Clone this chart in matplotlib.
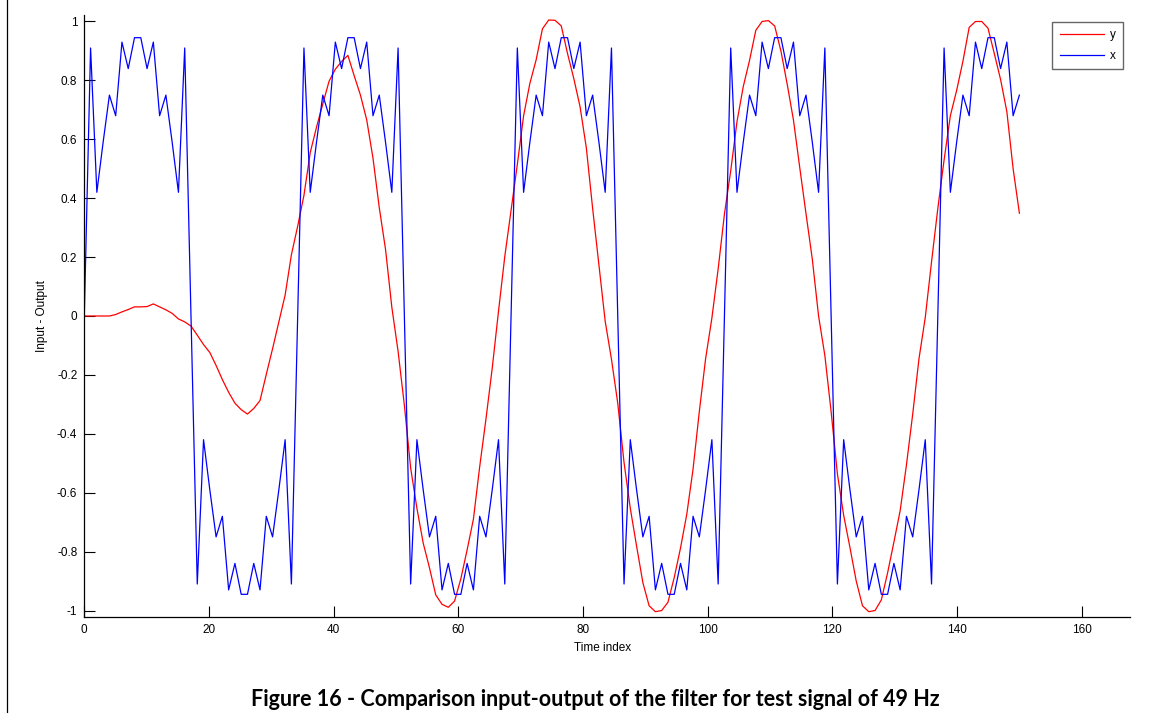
import numpy as np
import matplotlib
matplotlib.use("Agg")
import matplotlib.pyplot as plt
from matplotlib.lines import Line2D

plt.rcParams['font.family'] = ['Liberation Sans Narrow', 'Liberation Sans', 'DejaVu Sans']

# ---------------- data ----------------
n_samples = 150
time_index = np.linspace(0, 150, n_samples)

x_input = [
    0, 0.91, 0.42, 0.59, 0.75, 0.68, 0.93, 0.84, 0.945, 0.945, 0.84, 0.93, 0.68, 0.75, 0.59, 0.42, 0.91,
    0, -0.91, -0.42, -0.59, -0.75, -0.68, -0.93, -0.84, -0.945, -0.945, -0.84, -0.93, -0.68, -0.75, -0.59, -0.42, -0.91,
    0, 0.91, 0.42, 0.59, 0.75, 0.68, 0.93, 0.84, 0.945, 0.945, 0.84, 0.93, 0.68, 0.75, 0.59, 0.42, 0.91,
    0, -0.91, -0.42, -0.59, -0.75, -0.68, -0.93, -0.84, -0.945, -0.945, -0.84, -0.93, -0.68, -0.75, -0.59, -0.42, -0.91,
    0, 0.91, 0.42, 0.59, 0.75, 0.68, 0.93, 0.84, 0.945, 0.945, 0.84, 0.93, 0.68, 0.75, 0.59, 0.42, 0.91,
    0, -0.91, -0.42, -0.59, -0.75, -0.68, -0.93, -0.84, -0.945, -0.945, -0.84, -0.93, -0.68, -0.75, -0.59, -0.42, -0.91,
    0, 0.91, 0.42, 0.59, 0.75, 0.68, 0.93, 0.84, 0.945, 0.945, 0.84, 0.93, 0.68, 0.75, 0.59, 0.42, 0.91,
    0, -0.91, -0.42, -0.59, -0.75, -0.68, -0.93, -0.84, -0.945, -0.945, -0.84, -0.93, -0.68, -0.75, -0.59, -0.42, -0.91,
    0, 0.91, 0.42, 0.59, 0.75, 0.68, 0.93, 0.84, 0.945, 0.945, 0.84, 0.93, 0.68, 0.75,
]

y_output = [
    0, 0, 0, 0, 0, 0.005, 0.014, 0.022, 0.031, 0.031,
    0.032, 0.041, 0.031, 0.021, 0.009, -0.010, -0.020, -0.034, -0.065, -0.097,
    -0.124, -0.168, -0.216, -0.259, -0.296, -0.318, -0.333, -0.314, -0.287, -0.198,
    -0.111, -0.020, 0.071, 0.208, 0.305, 0.410, 0.555, 0.641, 0.720, 0.797,
    0.838, 0.864, 0.885, 0.816, 0.750, 0.666, 0.536, 0.368, 0.226, 0.030,
    -0.120, -0.303, -0.516, -0.653, -0.771, -0.855, -0.947, -0.979, -0.989, -0.968,
    -0.892, -0.794, -0.690, -0.512, -0.350, -0.177, 0.016, 0.202, 0.358, 0.515,
    0.680, 0.790, 0.870, 0.975, 1.005, 1.004, 0.985, 0.891, 0.806, 0.710,
    0.570, 0.365, 0.175, -0.018, -0.147, -0.296, -0.497, -0.653, -0.781, -0.905,
    -0.984, -1.004, -1.000, -0.972, -0.888, -0.788, -0.673, -0.520, -0.324, -0.145,
    -0.007, 0.160, 0.346, 0.493, 0.660, 0.779, 0.868, 0.970, 1.000, 1.003,
    0.985, 0.900, 0.787, 0.665, 0.504, 0.347, 0.193, 0.000, -0.134, -0.325,
    -0.536, -0.677, -0.786, -0.900, -0.984, -1.004, -1.000, -0.964, -0.872, -0.768,
    -0.661, -0.506, -0.333, -0.145, -0.005, 0.184, 0.365, 0.530, 0.680, 0.766,
    0.865, 0.980, 1.000, 1.000, 0.977, 0.891, 0.803, 0.694, 0.500, 0.349,
]

x_ticks = [0, 20, 40, 60, 80, 100, 120, 140, 160]
y_ticks = [-1, -0.8, -0.6, -0.4, -0.2, 0, 0.2, 0.4, 0.6, 0.8, 1]
y_tick_labels = ['-1', '-0.8', '-0.6', '-0.4', '-0.2', '0', '0.2', '0.4', '0.6', '0.8', '1']
x_label = 'Time index'
y_label = 'Input - Output'
caption = 'Figure 16 - Comparison input-output of the filter for test signal of 49 Hz'

# ---------------- figure ----------------
W, H = 1151, 713
fig = plt.figure(figsize=(W / 100, H / 100), dpi=100)
ax_left, ax_right, ax_top, ax_bottom = 84.3, 1130.0, 15.0, 616.7
ax = fig.add_axes([ax_left / W, 1 - ax_bottom / H, (ax_right - ax_left) / W, (ax_bottom - ax_top) / H])

ax.plot(time_index, y_output, color='#ff0000', lw=0.9, label='y')
ax.plot(time_index, x_input, color='#0000ff', lw=0.9, label='x')

ax.set_xlim(0, (ax_right - ax_left) / 6.234)
ax.set_ylim(-1.021, 1.022)
ax.set_xticks(x_ticks)
ax.set_xticklabels([str(t) for t in x_ticks])
ax.set_yticks(y_ticks)
ax.set_yticklabels(y_tick_labels)
ax.tick_params(direction='in', length=8, width=0.8, labelsize=8.5, pad=5, colors='black')
for s in ['top', 'right']:
    ax.spines[s].set_visible(False)
for s in ['left', 'bottom']:
    ax.spines[s].set_linewidth(0.9)

ax.set_xlabel(x_label, fontsize=8.5, va='center')
ax.xaxis.set_label_coords((603 - ax_left) / (ax_right - ax_left), -(648 - ax_bottom) / (ax_bottom - ax_top))
ax.set_ylabel(y_label, fontsize=8.5, va='center')
ax.yaxis.set_label_coords((42 - ax_left) / (ax_right - ax_left), 0.5)

leg = ax.legend(loc='upper right', bbox_to_anchor=(1123.3 / W, 1 - 21.7 / H),
                bbox_transform=fig.transFigure, fontsize=8.5, frameon=True, fancybox=False,
                handlelength=3.8, handletextpad=0.5, borderpad=0.6, labelspacing=0.75,
                borderaxespad=0)
leg.get_frame().set_edgecolor('#404040')
leg.get_frame().set_linewidth(1.0)

# page border line at the far left
fig.add_artist(Line2D([7.5 / W, 7.5 / W], [0, 1], transform=fig.transFigure, color='black', lw=0.9))

fig.text(940 / W, 1 - 706 / H, caption, ha='right', va='baseline', fontsize=15.5,
         fontweight='bold', family=['Lato', 'DejaVu Sans'])

fig.savefig('out.png', dpi=100)
